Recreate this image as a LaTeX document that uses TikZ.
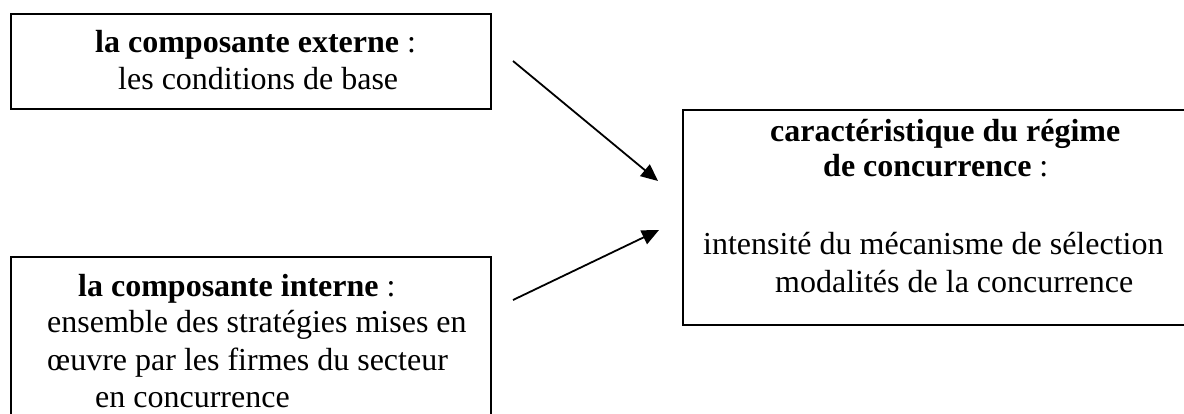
\documentclass[tikz,border=0pt]{standalone}
\usepackage{fontspec}
\setmainfont{Liberation Serif}
\usetikzlibrary{arrows.meta}
\begin{document}
\begin{tikzpicture}[x=1pt,y=-1pt,
  frame/.style={draw, line width=2.2pt, rectangle, inner sep=0pt, anchor=north west},
  txt/.style={anchor=base west, inner sep=0pt, font=\fontsize{32}{37}\selectfont},
  link/.style={line width=1.8pt, -{Triangle[length=17pt,width=15pt]}}]
\useasboundingbox (0,0) rectangle (1184,414);
\clip (0,0) rectangle (1184,414);

% boxes
\node[frame, minimum width=480.5pt, minimum height=95pt] (ext) at (9.5,13) {};
\node[frame, minimum width=480.5pt, minimum height=180pt] (int) at (9.5,256) {};
\node[frame, minimum width=540pt, minimum height=215pt] (reg) at (682,109) {};

% external component
\node[txt] (e1) at (95,53) {\textbf{la composante externe} :};
\node[txt] (e2) at (118,90) {les conditions de base};

% internal component
\node[txt] (i1) at (78,296) {\textbf{la composante interne} :};
\node[txt] (i2) at (47,332) {ensemble des stratégies mises en};
\node[txt] (i3) at (47,370) {œuvre par les firmes du secteur};
\node[txt] (i4) at (95,407) {en concurrence};

% competition regime
\node[txt] (r1) at (770,142) {\textbf{caractéristique du régime}};
\node[txt] (r2) at (823,177) {\textbf{de concurrence} :};
\node[txt] (r3) at (703,255) {intensité du mécanisme de sélection};
\node[txt] (r4) at (775,293) {modalités de la concurrence};

% arrows
\coordinate (a1s) at (513,61);
\coordinate (a1e) at (658,181);
\coordinate (a2s) at (513,300);
\coordinate (a2e) at (659,230);
\draw[link] (a1s) -- (a1e);
\draw[link] (a2s) -- (a2e);
\end{tikzpicture}
\end{document}
